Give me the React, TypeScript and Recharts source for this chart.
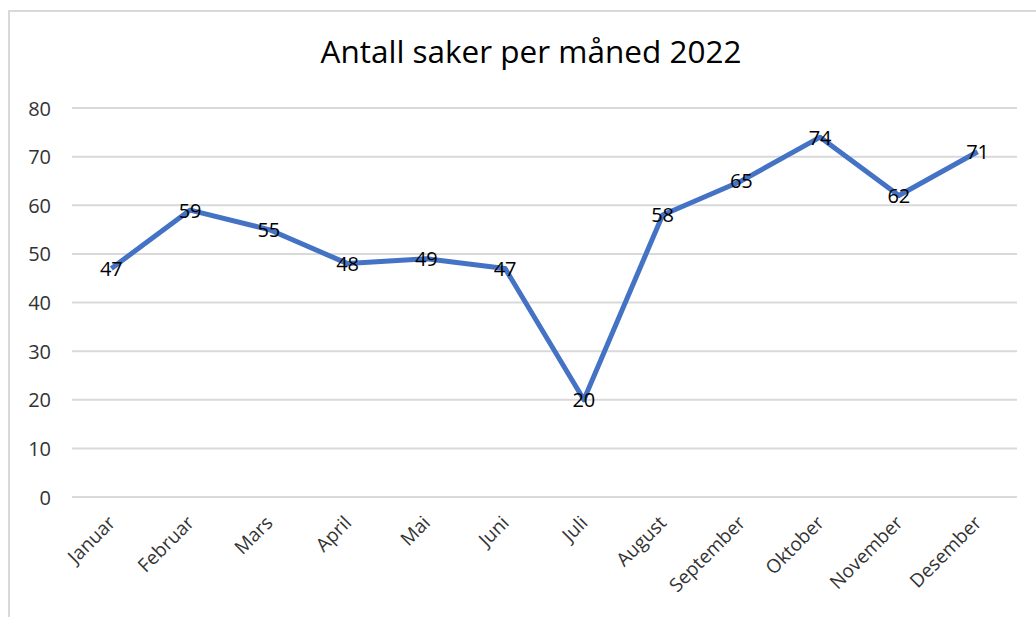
import { LineChart, Line, XAxis, YAxis, CartesianGrid, LabelList } from 'recharts'

const months = ['Januar', 'Februar', 'Mars', 'April', 'Mai', 'Juni', 'Juli', 'August', 'September', 'Oktober', 'November', 'Desember']
const cases = [47, 59, 55, 48, 49, 47, 20, 58, 65, 74, 62, 71]
const yTicks = [0, 10, 20, 30, 40, 50, 60, 70, 80]

const data = months.map((m, i) => ({ month: m, saker: cases[i] }))

const FONT = '"Open Sans", sans-serif'

const XTick = (props: any) => {
  const { x, y, payload } = props
  return (
    <g transform={`translate(${x + 5},${y + 19})`}>
      <text textAnchor="end" transform="rotate(-45)" fontSize={19} fill="#333" fontFamily={FONT}>
        {payload.value}
      </text>
    </g>
  )
}

const YTick = (props: any) => {
  const { y, payload } = props
  return (
    <text x={51} y={y} textAnchor="end" dominantBaseline="central" fontSize={20} fill="#333" fontFamily={FONT}>
      {payload.value}
    </text>
  )
}

const renderValue = (props: any) => {
  const { x, y, value } = props
  return (
    <text x={x} y={y} textAnchor="middle" dominantBaseline="central" fontSize={20} fill="#000" fontFamily={FONT}>
      {value}
    </text>
  )
}

export default function App() {
  return (
    <div style={{ position: 'absolute', left: 0, top: 0, width: 1036, height: 617, background: '#fff', overflow: 'hidden' }}>
      <div style={{ position: 'absolute', left: 8, top: 10, width: 1100, height: 700, borderTop: '2px solid #d9d9d9', borderLeft: '2px solid #d9d9d9' }} />
      <div style={{ position: 'absolute', left: 0, top: 29, width: 1062, textAlign: 'center', fontFamily: FONT, fontSize: 31.5, color: '#000' }}>
        Antall saker per måned 2022
      </div>
      <div style={{ position: 'absolute', left: 0, top: 0 }}>
        <LineChart width={1036} height={617} data={data} margin={{ top: 108, right: 19, left: 0, bottom: 10 }}>
          <CartesianGrid vertical={false} stroke="#d9d9d9" strokeWidth={2} />
          <XAxis dataKey="month" scale="band" axisLine={false} tickLine={false} height={110} tick={<XTick />} interval={0} />
          <YAxis domain={[0, 80]} ticks={yTicks} width={72} axisLine={false} tickLine={false} tick={<YTick />} />
          <Line dataKey="saker" stroke="#4472c4" strokeWidth={5} dot={false} isAnimationActive={false} strokeLinejoin="round">
            <LabelList dataKey="saker" content={renderValue} />
          </Line>
        </LineChart>
      </div>
    </div>
  )
}
